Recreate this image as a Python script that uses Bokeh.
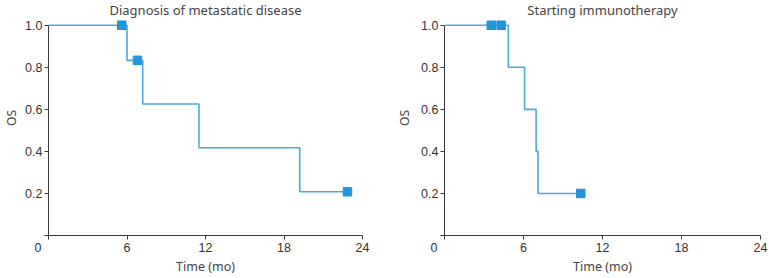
from bokeh.plotting import figure
from bokeh.layouts import row
from bokeh.models import FixedTicker, NumeralTickFormatter, Range1d, Label
from bokeh.embed import file_html
from bokeh.resources import INLINE

# Panel 1: Diagnosis of metastatic disease
t1 = [0, 6.0, 7.2, 11.5, 19.2, 22.85]
s1 = [1.0, 0.833, 0.625, 0.417, 0.208, 0.208]
c1_t = [5.6, 6.8, 22.85]
c1_s = [1.0, 0.833, 0.208]

# Panel 2: Starting immunotherapy
t2 = [0, 4.85, 6.08, 6.96, 7.1, 10.35]
s2 = [1.0, 0.8, 0.6, 0.4, 0.2, 0.2]
c2_t = [3.55, 4.3, 10.35]
c2_s = [1.0, 1.0, 0.2]

titles = ["Diagnosis of metastatic disease", "Starting immunotherapy"]
x_ticks = [0, 6, 12, 18, 24]
y_ticks = [0, 0.2, 0.4, 0.6, 0.8, 1.0]
NB = "\u00a0"
x_label_overrides = {0: "0" + NB * 6}

X_MAX = 24
Y_TOP = 1.1175  # room above the curve for the panel title

LINE = "#4aa8e0"
MARK = "#2196d8"
AX = "#3a3a3a"
TXT = "#444444"


def make(title, t, s, ct, cs, border_left, border_right, width, os_standoff):
    p = figure(width=width, height=278,
               min_border_left=border_left, min_border_right=border_right,
               min_border_top=0, min_border_bottom=43,
               x_range=Range1d(0, X_MAX), y_range=Range1d(0, Y_TOP),
               output_backend="svg", toolbar_location=None)
    p.outline_line_color = None
    p.grid.visible = False

    p.step(t, s, mode="after", line_color=LINE, line_width=1.6)
    p.scatter(ct, cs, marker="square", size=8.5, fill_color=MARK,
              line_color=MARK)

    p.add_layout(Label(x=X_MAX / 2, y=Y_TOP, text=title,
                       text_align="center", text_baseline="top",
                       text_font="Noto Sans", text_font_size="13px",
                       text_color=TXT))

    xa = p.xaxis[0]
    xa.ticker = FixedTicker(ticks=x_ticks)
    xa.major_label_overrides = x_label_overrides
    xa.axis_label = "Time (mo)"
    xa.bounds = (0, X_MAX)

    ya = p.yaxis[0]
    ya.ticker = FixedTicker(ticks=y_ticks)
    ya.formatter = NumeralTickFormatter(format="0.0")
    ya.major_label_overrides = {0: ""}
    ya.axis_label = "OS"
    ya.bounds = (0, 1)

    for ax in (xa, ya):
        ax.axis_line_color = AX
        ax.major_tick_line_color = AX
        ax.major_tick_out = 4
        ax.major_tick_in = 0
        ax.minor_tick_line_color = None
        ax.major_label_text_font = "Liberation Sans"
        ax.major_label_text_font_size = "12.5px"
        ax.major_label_text_color = "#333333"
        ax.axis_label_text_font = "Noto Sans"
        ax.axis_label_text_font_size = "12.5px"
        ax.axis_label_text_font_style = "normal"
        ax.axis_label_text_color = TXT
    ya.axis_label_text_font_size = "12px"
    xa.axis_label_standoff = 0
    xa.major_label_standoff = 1
    ya.major_label_standoff = 2
    ya.axis_label_standoff = os_standoff
    return p


p1 = make(titles[0], t1, s1, c1_t, c1_s, 46, 22, 384, 2)
p2 = make(titles[1], t2, s2, c2_t, c2_s, 60, 9, 385, 5)
layout = row(p1, p2)

open("out.html", "w").write(file_html(layout, INLINE))
